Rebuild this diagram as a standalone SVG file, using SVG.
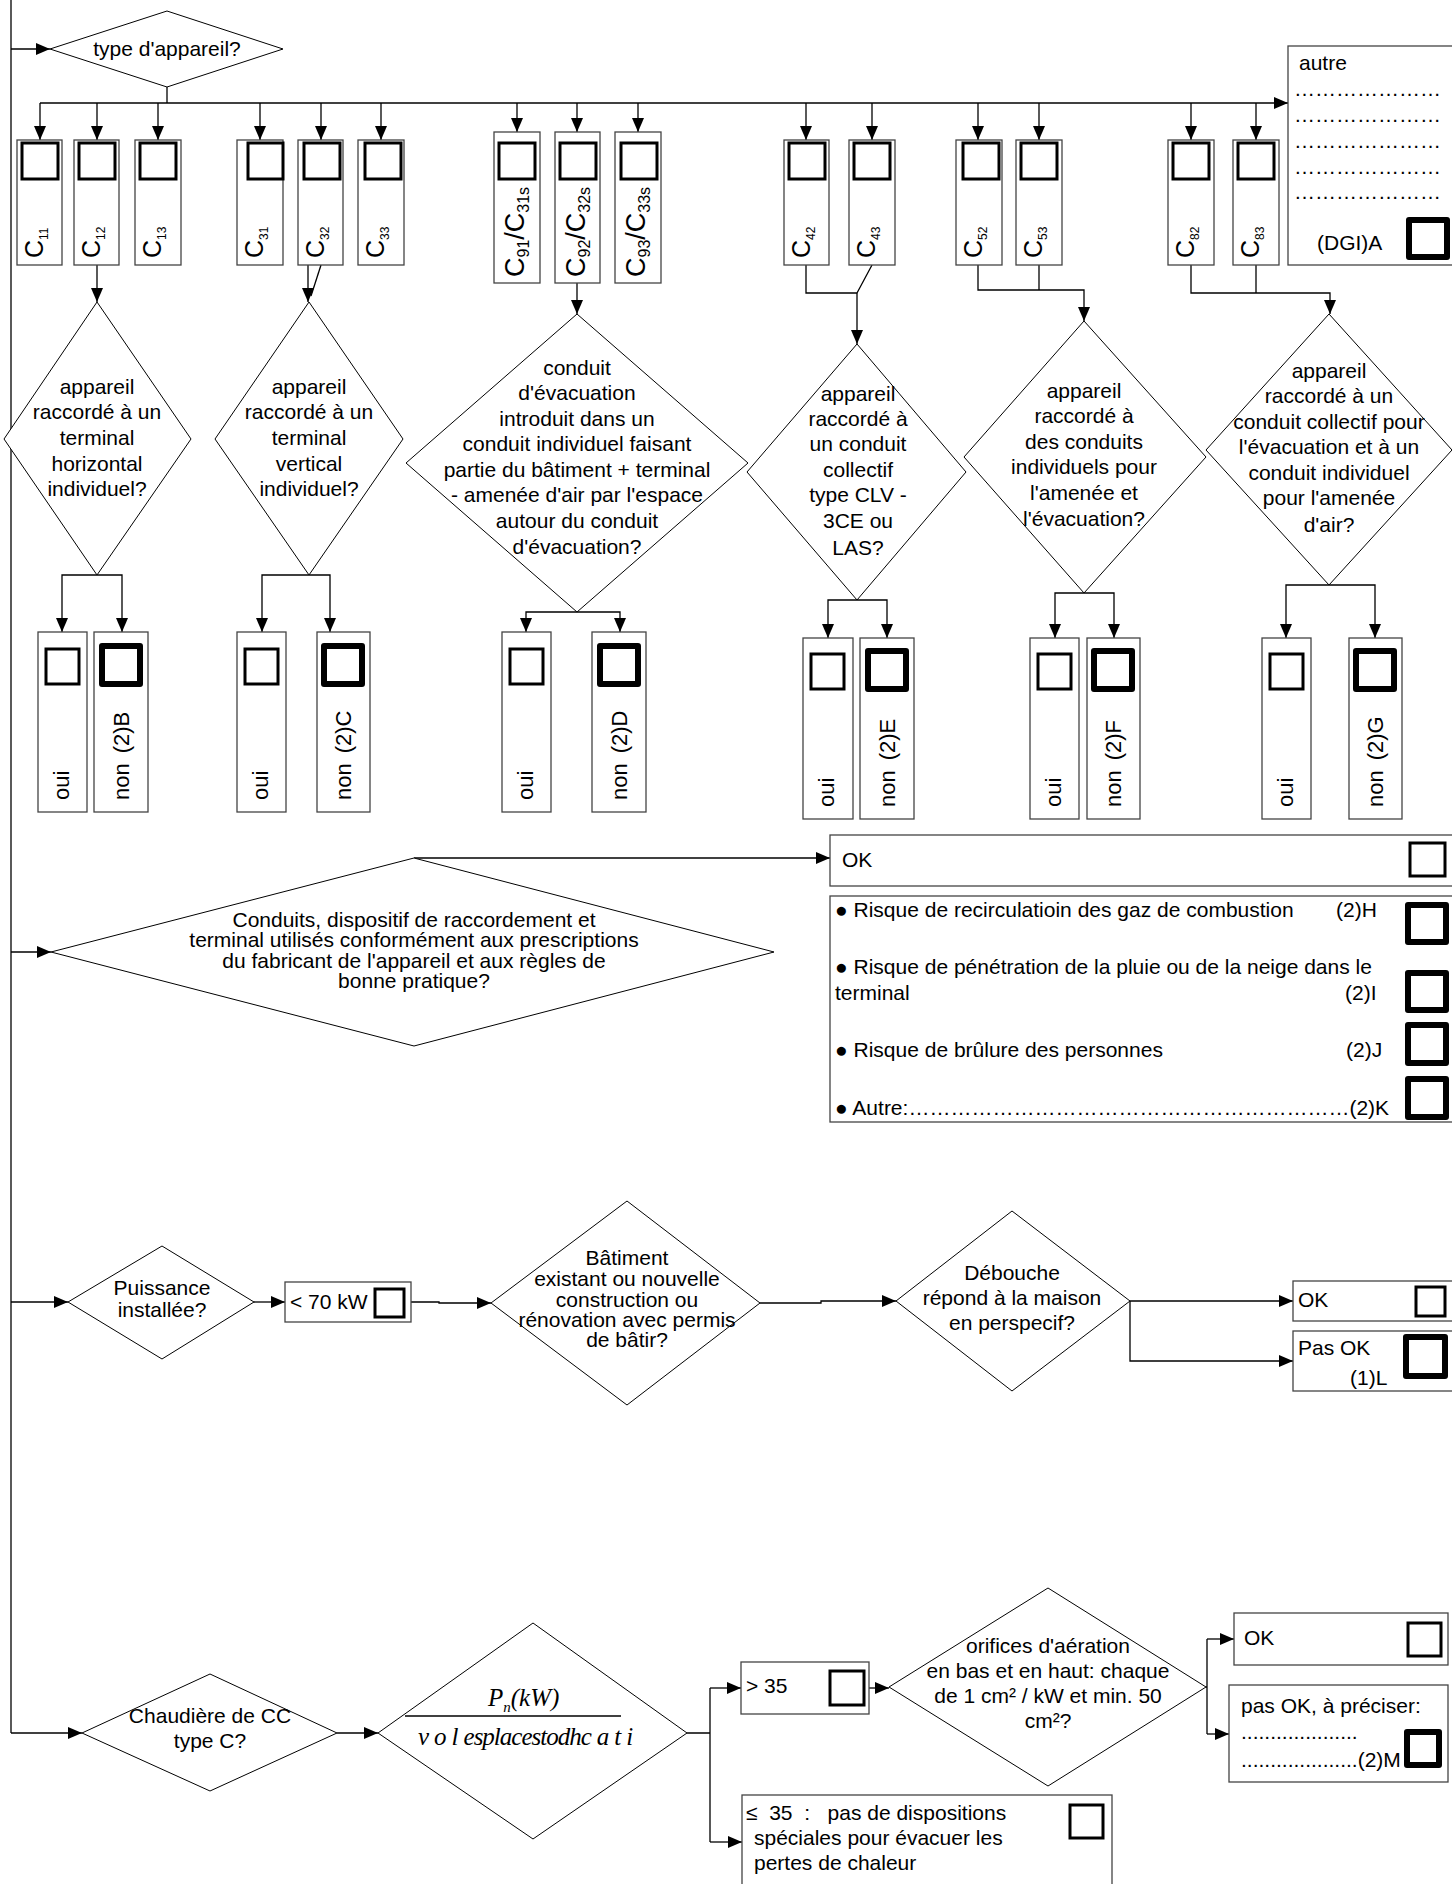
<svg xmlns="http://www.w3.org/2000/svg" width="1452" height="1884" viewBox="0 0 1452 1884">
<defs>
<marker id="ah" markerUnits="userSpaceOnUse" markerWidth="14" markerHeight="12" refX="14" refY="6" orient="auto"><path d="M0,0 L14,6 L0,12 z" fill="#000"/></marker>
<style>
text{font-family:"Liberation Sans",Arial,sans-serif;font-size:21px;fill:#000}
.c{text-anchor:middle}
.box{fill:#fff;stroke:#444;stroke-width:1.3}
.dia{fill:#fff;stroke:#000;stroke-width:1}
.cb{fill:none;stroke:#000;stroke-width:3}
.cbt{fill:none;stroke:#000;stroke-width:6;stroke-linejoin:round}
.ln{fill:none;stroke:#000;stroke-width:1.3}
.ar{fill:none;stroke:#000;stroke-width:1.3;marker-end:url(#ah)}
.big{font-size:25px}
.sub{font-size:12px}
.big2{font-size:27px}
.sub2{font-size:16px}
.vt{font-size:22px}
.it{font-family:"Liberation Serif","Times New Roman",serif;font-style:italic;font-size:25px}
</style>
</defs>
<rect width="1452" height="1884" fill="#fff"/>

<!-- connectors -->
<g id="connectors">
<path class="ln" d="M11,0 V1733"/>
<path class="ar" d="M11,1733 H82"/>
<path class="ar" d="M11,49 H50"/>
<path class="ln" d="M167,87 V103" stroke-width="2.5"/>
<path class="ar" d="M40,103 H1288"/>
<path class="ar" d="M40,103 V140"/>
<path class="ar" d="M97,103 V140"/>
<path class="ar" d="M158,103 V140"/>
<path class="ar" d="M260,103 V140"/>
<path class="ar" d="M321,103 V140"/>
<path class="ar" d="M381,103 V140"/>
<path class="ar" d="M517,103 V132"/>
<path class="ar" d="M577,103 V132"/>
<path class="ar" d="M638,103 V132"/>
<path class="ar" d="M806,103 V140"/>
<path class="ar" d="M872,103 V140"/>
<path class="ar" d="M978,103 V140"/>
<path class="ar" d="M1039,103 V140"/>
<path class="ar" d="M1191,103 V140"/>
<path class="ar" d="M1256,103 V140"/>
<path class="ar" d="M97,265 V302" stroke-width="2.2"/>
<path class="ar" d="M308,265 V302"/>
<path class="ln" d="M321,265 L311,296"/>
<path class="ar" d="M577,283 V314"/>
<path class="ln" d="M806,265 V293 H857 M872,265 L857,293"/>
<path class="ar" d="M857,293 V344"/>
<path class="ln" d="M1039,265 V290"/>
<path class="ar" d="M978,265 V290 H1084 V321"/>
<path class="ln" d="M1256,265 V293"/>
<path class="ar" d="M1191,265 V293 H1330 V314"/>
<path class="ar" d="M97,575 H62 V632"/>
<path class="ar" d="M97,575 H122 V632"/>
<path class="ar" d="M309,575 H262 V632"/>
<path class="ar" d="M309,575 H330 V632"/>
<path class="ar" d="M577,612 H526 V632"/>
<path class="ar" d="M577,612 H620 V632"/>
<path class="ar" d="M857,600 H828 V638"/>
<path class="ar" d="M857,600 H887 V638"/>
<path class="ar" d="M1084,593 H1055 V638"/>
<path class="ar" d="M1084,593 H1114 V638"/>
<path class="ar" d="M1329,585 H1286 V638"/>
<path class="ar" d="M1329,585 H1375 V638"/>
<path class="ar" d="M11,952 H51"/>
<path class="ar" d="M414,858 H830"/>
<path class="ar" d="M11,1302 H68"/>
<path class="ar" d="M254,1302 H285"/>
<path class="ar" d="M411,1302 H439 V1303 H491"/>
<path class="ar" d="M760,1303 H821 V1301 H896"/>
<path class="ar" d="M1130,1301 H1293"/>
<path class="ar" d="M1130,1301 V1361 H1293"/>
<path class="ar" d="M337,1733 H378"/>
<path class="ln" d="M687,1733 H710 M710,1688 V1842"/>
<path class="ar" d="M710,1688 H741"/>
<path class="ar" d="M710,1842 H742"/>
<path class="ar" d="M869,1688 H889"/>
<path class="ln" d="M1206,1687 H1207 M1207,1639 V1734"/>
<path class="ar" d="M1207,1639 H1234"/>
<path class="ar" d="M1207,1734 H1229"/>
</g>

<g id="n-type">
<polygon class="dia" points="50,49 167,11 283,49 167,87"/>
<text class="c" x="167" y="56">type d'appareil?</text>
</g>

<!-- C boxes -->
<g id="n-c11"><rect class="box" x="17" y="140" width="45" height="125"/><rect class="cb" x="22" y="143" width="36" height="36"/>
<text transform="translate(43,258) rotate(-90)"><tspan class="big">C</tspan><tspan class="sub" dy="5">11</tspan></text></g>
<g id="n-c12"><rect class="box" x="74" y="140" width="45" height="125"/><rect class="cb" x="79" y="143" width="36" height="36"/>
<text transform="translate(100,258) rotate(-90)"><tspan class="big">C</tspan><tspan class="sub" dy="5">12</tspan></text></g>
<g id="n-c13"><rect class="box" x="135" y="140" width="46" height="125"/><rect class="cb" x="140" y="143" width="36" height="36"/>
<text transform="translate(161,258) rotate(-90)"><tspan class="big">C</tspan><tspan class="sub" dy="5">13</tspan></text></g>
<g id="n-c31"><rect class="box" x="237" y="140" width="46" height="125"/><rect class="cb" x="248" y="143" width="35" height="36"/>
<text transform="translate(263,258) rotate(-90)"><tspan class="big">C</tspan><tspan class="sub" dy="5">31</tspan></text></g>
<g id="n-c32"><rect class="box" x="298" y="140" width="45" height="125"/><rect class="cb" x="304" y="143" width="36" height="36"/>
<text transform="translate(324,258) rotate(-90)"><tspan class="big">C</tspan><tspan class="sub" dy="5">32</tspan></text></g>
<g id="n-c33"><rect class="box" x="358" y="140" width="46" height="125"/><rect class="cb" x="365" y="143" width="36" height="36"/>
<text transform="translate(384,258) rotate(-90)"><tspan class="big">C</tspan><tspan class="sub" dy="5">33</tspan></text></g>

<g id="n-c91"><rect class="box" x="494" y="132" width="46" height="151"/><rect class="cb" x="499" y="143" width="36" height="36"/>
<text transform="translate(524,277) rotate(-90)"><tspan class="big2">C</tspan><tspan class="sub2" dy="5">91</tspan><tspan class="big2" dy="-5">/C</tspan><tspan class="sub2" dy="5">31s</tspan></text></g>
<g id="n-c92"><rect class="box" x="555" y="132" width="45" height="151"/><rect class="cb" x="560" y="143" width="36" height="36"/>
<text transform="translate(585,277) rotate(-90)"><tspan class="big2">C</tspan><tspan class="sub2" dy="5">92</tspan><tspan class="big2" dy="-5">/C</tspan><tspan class="sub2" dy="5">32s</tspan></text></g>
<g id="n-c93"><rect class="box" x="615" y="132" width="46" height="151"/><rect class="cb" x="621" y="143" width="36" height="36"/>
<text transform="translate(645,277) rotate(-90)"><tspan class="big2">C</tspan><tspan class="sub2" dy="5">93</tspan><tspan class="big2" dy="-5">/C</tspan><tspan class="sub2" dy="5">33s</tspan></text></g>

<g id="n-c42"><rect class="box" x="784" y="140" width="45" height="125"/><rect class="cb" x="789" y="143" width="36" height="36"/>
<text transform="translate(810,258) rotate(-90)"><tspan class="big">C</tspan><tspan class="sub" dy="5">42</tspan></text></g>
<g id="n-c43"><rect class="box" x="849" y="140" width="46" height="125"/><rect class="cb" x="854" y="143" width="36" height="36"/>
<text transform="translate(875,258) rotate(-90)"><tspan class="big">C</tspan><tspan class="sub" dy="5">43</tspan></text></g>
<g id="n-c52"><rect class="box" x="956" y="140" width="46" height="125"/><rect class="cb" x="963" y="143" width="36" height="36"/>
<text transform="translate(982,258) rotate(-90)"><tspan class="big">C</tspan><tspan class="sub" dy="5">52</tspan></text></g>
<g id="n-c53"><rect class="box" x="1016" y="140" width="46" height="125"/><rect class="cb" x="1021" y="143" width="36" height="36"/>
<text transform="translate(1042,258) rotate(-90)"><tspan class="big">C</tspan><tspan class="sub" dy="5">53</tspan></text></g>
<g id="n-c82"><rect class="box" x="1168" y="140" width="46" height="125"/><rect class="cb" x="1173" y="143" width="36" height="36"/>
<text transform="translate(1194,258) rotate(-90)"><tspan class="big">C</tspan><tspan class="sub" dy="5">82</tspan></text></g>
<g id="n-c83"><rect class="box" x="1233" y="140" width="46" height="125"/><rect class="cb" x="1238" y="143" width="36" height="36"/>
<text transform="translate(1259,258) rotate(-90)"><tspan class="big">C</tspan><tspan class="sub" dy="5">83</tspan></text></g>

<g id="n-autre"><rect class="box" x="1288" y="46" width="170" height="219"/>
<text x="1299" y="70">autre</text>
<text x="1294" y="96">…………………</text>
<text x="1294" y="122">…………………</text>
<text x="1294" y="148">…………………</text>
<text x="1294" y="174">…………………</text>
<text x="1294" y="199">…………………</text>
<text x="1317" y="250">(DGI)A</text>
<rect class="cbt" x="1409" y="220" width="38" height="37"/></g>

<!-- question diamonds row -->
<g id="n-q1"><polygon class="dia" points="4,439 97,302 191,439 97,575"/>
<text class="c" x="97" y="394">appareil</text><text class="c" x="97" y="419">raccordé à un</text><text class="c" x="97" y="445">terminal</text><text class="c" x="97" y="471">horizontal</text><text class="c" x="97" y="496">individuel?</text></g>
<g id="n-q2"><polygon class="dia" points="215,439 309,302 403,439 309,575"/>
<text class="c" x="309" y="394">appareil</text><text class="c" x="309" y="419">raccordé à un</text><text class="c" x="309" y="445">terminal</text><text class="c" x="309" y="471">vertical</text><text class="c" x="309" y="496">individuel?</text></g>
<g id="n-q3"><polygon class="dia" points="406,463 577,314 748,463 577,612"/>
<text class="c" x="577" y="375">conduit</text><text class="c" x="577" y="400">d'évacuation</text><text class="c" x="577" y="426">introduit dans un</text><text class="c" x="577" y="451">conduit individuel faisant</text><text class="c" x="577" y="477">partie du bâtiment + terminal</text><text class="c" x="577" y="502">- amenée d'air par l'espace</text><text class="c" x="577" y="528">autour du conduit</text><text class="c" x="577" y="554">d'évacuation?</text></g>
<g id="n-q4"><polygon class="dia" points="747,472 857,344 966,472 857,600"/>
<text class="c" x="858" y="401">appareil</text><text class="c" x="858" y="426">raccordé à</text><text class="c" x="858" y="451">un conduit</text><text class="c" x="858" y="477">collectif</text><text class="c" x="858" y="502">type CLV -</text><text class="c" x="858" y="528">3CE ou</text><text class="c" x="858" y="555">LAS?</text></g>
<g id="n-q5"><polygon class="dia" points="964,457 1084,321 1206,457 1084,593"/>
<text class="c" x="1084" y="398">appareil</text><text class="c" x="1084" y="423">raccordé à</text><text class="c" x="1084" y="449">des conduits</text><text class="c" x="1084" y="474">individuels pour</text><text class="c" x="1084" y="500">l'amenée et</text><text class="c" x="1084" y="526">l'évacuation?</text></g>
<g id="n-q6"><polygon class="dia" points="1206,450 1329,314 1452,450 1329,585"/>
<text class="c" x="1329" y="378">appareil</text><text class="c" x="1329" y="403">raccordé à un</text><text class="c" x="1329" y="429">conduit collectif pour</text><text class="c" x="1329" y="454">l'évacuation et à un</text><text class="c" x="1329" y="480">conduit individuel</text><text class="c" x="1329" y="505">pour l'amenée</text><text class="c" x="1329" y="532">d'air?</text></g>

<!-- oui / non boxes -->
<g id="n-oui1"><rect class="box" x="38" y="632" width="49" height="180"/><rect class="cb" x="46" y="649" width="33" height="35"/><text class="vt" transform="translate(69,800) rotate(-90)">oui</text></g>
<g id="n-non1"><rect class="box" x="94" y="632" width="54" height="180"/><rect class="cbt" x="102" y="646" width="38" height="38"/><text class="vt" transform="translate(129,800) rotate(-90)">non<tspan dx="10">(2)B</tspan></text></g>
<g id="n-oui2"><rect class="box" x="237" y="632" width="49" height="180"/><rect class="cb" x="245" y="649" width="33" height="35"/><text class="vt" transform="translate(268,800) rotate(-90)">oui</text></g>
<g id="n-non2"><rect class="box" x="317" y="632" width="53" height="180"/><rect class="cbt" x="324" y="646" width="38" height="38"/><text class="vt" transform="translate(351,800) rotate(-90)">non<tspan dx="10">(2)C</tspan></text></g>
<g id="n-oui3"><rect class="box" x="502" y="632" width="49" height="180"/><rect class="cb" x="510" y="649" width="33" height="35"/><text class="vt" transform="translate(533,800) rotate(-90)">oui</text></g>
<g id="n-non3"><rect class="box" x="592" y="632" width="54" height="180"/><rect class="cbt" x="600" y="646" width="38" height="38"/><text class="vt" transform="translate(627,800) rotate(-90)">non<tspan dx="10">(2)D</tspan></text></g>
<g id="n-oui4"><rect class="box" x="803" y="638" width="50" height="181"/><rect class="cb" x="811" y="654" width="33" height="35"/><text class="vt" transform="translate(834,807) rotate(-90)">oui</text></g>
<g id="n-non4"><rect class="box" x="860" y="638" width="54" height="181"/><rect class="cbt" x="868" y="651" width="38" height="38"/><text class="vt" transform="translate(895,807) rotate(-90)">non<tspan dx="10">(2)E</tspan></text></g>
<g id="n-oui5"><rect class="box" x="1030" y="638" width="49" height="181"/><rect class="cb" x="1038" y="654" width="33" height="35"/><text class="vt" transform="translate(1061,807) rotate(-90)">oui</text></g>
<g id="n-non5"><rect class="box" x="1087" y="638" width="53" height="181"/><rect class="cbt" x="1094" y="651" width="38" height="38"/><text class="vt" transform="translate(1121,807) rotate(-90)">non<tspan dx="10">(2)F</tspan></text></g>
<g id="n-oui6"><rect class="box" x="1262" y="638" width="49" height="181"/><rect class="cb" x="1270" y="654" width="33" height="35"/><text class="vt" transform="translate(1293,807) rotate(-90)">oui</text></g>
<g id="n-non6"><rect class="box" x="1349" y="638" width="53" height="181"/><rect class="cbt" x="1356" y="651" width="38" height="38"/><text class="vt" transform="translate(1383,807) rotate(-90)">non<tspan dx="10">(2)G</tspan></text></g>

<!-- conformity -->
<g id="n-conf"><polygon class="dia" points="51,952 414,858 774,952 414,1046"/>
<text class="c" x="414" y="927">Conduits, dispositif de raccordement et</text>
<text class="c" x="414" y="947">terminal utilisés conformément aux prescriptions</text>
<text class="c" x="414" y="968">du fabricant de l'appareil et aux règles de</text>
<text class="c" x="414" y="988">bonne pratique?</text></g>
<g id="n-ok1"><rect class="box" x="830" y="835" width="630" height="51"/><text x="842" y="867">OK</text><rect class="cb" x="1410" y="843" width="35" height="33"/></g>
<g id="n-risk"><rect class="box" x="830" y="896" width="630" height="226"/>
<text x="835" y="917">● Risque de recirculatioin des gaz de combustion</text><text x="1336" y="917">(2)H</text>
<rect class="cbt" x="1408" y="905" width="38" height="37"/>
<text x="835" y="974">● Risque de pénétration de la pluie ou de la neige dans le</text>
<text x="835" y="1000">terminal</text><text x="1345" y="1000">(2)I</text>
<rect class="cbt" x="1408" y="973" width="38" height="37"/>
<text x="835" y="1057">● Risque de brûlure des personnes</text><text x="1346" y="1057">(2)J</text>
<rect class="cbt" x="1408" y="1025" width="38" height="38"/>
<text x="835" y="1115">● Autre:………………………………………………………(2)K</text>
<rect class="cbt" x="1408" y="1079" width="38" height="38"/></g>

<!-- puissance row -->
<g id="n-puis"><polygon class="dia" points="68,1302 162,1246 254,1302 162,1359"/>
<text class="c" x="162" y="1295">Puissance</text><text class="c" x="162" y="1317">installée?</text></g>
<g id="n-70"><rect class="box" x="285" y="1282" width="126" height="40"/><text x="290" y="1309">&lt; 70 kW</text><rect class="cb" x="375" y="1289" width="29" height="28"/></g>
<g id="n-bat"><polygon class="dia" points="491,1303 627,1201 760,1303 627,1405"/>
<text class="c" x="627" y="1265">Bâtiment</text><text class="c" x="627" y="1286">existant ou nouvelle</text><text class="c" x="627" y="1307">construction ou</text><text class="c" x="627" y="1327">rénovation avec permis</text><text class="c" x="627" y="1347">de bâtir?</text></g>
<g id="n-deb"><polygon class="dia" points="896,1301 1012,1211 1130,1301 1012,1391"/>
<text class="c" x="1012" y="1280">Débouche</text><text class="c" x="1012" y="1305">répond à la maison</text><text class="c" x="1012" y="1330">en perspecif?</text></g>
<g id="n-ok2"><rect class="box" x="1293" y="1281" width="165" height="40"/><text x="1298" y="1307">OK</text><rect class="cb" x="1416" y="1287" width="29" height="29"/></g>
<g id="n-pasok"><rect class="box" x="1293" y="1331" width="165" height="60"/><text x="1298" y="1355">Pas OK</text><text x="1350" y="1385">(1)L</text><rect class="cbt" x="1406" y="1337" width="39" height="39"/></g>

<!-- chaudiere row -->
<g id="n-chaud"><polygon class="dia" points="82,1733 210,1674 337,1733 210,1791"/>
<text class="c" x="210" y="1723">Chaudière de CC</text><text class="c" x="210" y="1748">type C?</text></g>
<g id="n-ratio"><polygon class="dia" points="378,1733 533,1623 687,1733 533,1839"/>
<line x1="405" y1="1716" x2="621" y2="1716" stroke="#000" stroke-width="1.3"/>
<text class="it" x="488" y="1706">P<tspan font-size="15" dy="6">n</tspan><tspan dy="-6">(kW)</tspan></text>
<text class="it" x="418" y="1745"><tspan letter-spacing="5">vol</tspan><tspan letter-spacing="-1">esplacestodh</tspan><tspan letter-spacing="5">cati</tspan></text></g>
<g id="n-gt35"><rect class="box" x="741" y="1662" width="128" height="52"/><text x="746" y="1693">&gt; 35</text><rect class="cb" x="830" y="1671" width="34" height="34"/></g>
<g id="n-le35"><rect class="box" x="742" y="1795" width="370" height="100"/>
<text x="746" y="1820" xml:space="preserve">≤  35  :   pas de dispositions</text>
<text x="754" y="1845">spéciales pour évacuer les</text>
<text x="754" y="1870">pertes de chaleur</text>
<rect class="cb" x="1070" y="1805" width="33" height="33"/></g>
<g id="n-orif"><polygon class="dia" points="889,1687 1048,1588 1206,1687 1048,1786"/>
<text class="c" x="1048" y="1653">orifices d'aération</text><text class="c" x="1048" y="1678">en bas et en haut: chaque</text><text class="c" x="1048" y="1703">de 1 cm² / kW et min. 50</text><text class="c" x="1048" y="1728">cm²?</text></g>
<g id="n-ok3"><rect class="box" x="1234" y="1613" width="214" height="52"/><text x="1244" y="1645">OK</text><rect class="cb" x="1408" y="1623" width="33" height="33"/></g>
<g id="n-pasok2"><rect class="box" x="1229" y="1685" width="219" height="97"/>
<text x="1241" y="1713">pas OK, à préciser:</text>
<text x="1241" y="1739">....................</text>
<text x="1241" y="1767">....................(2)M</text>
<rect class="cbt" x="1407" y="1732" width="32" height="33"/></g>
</svg>
